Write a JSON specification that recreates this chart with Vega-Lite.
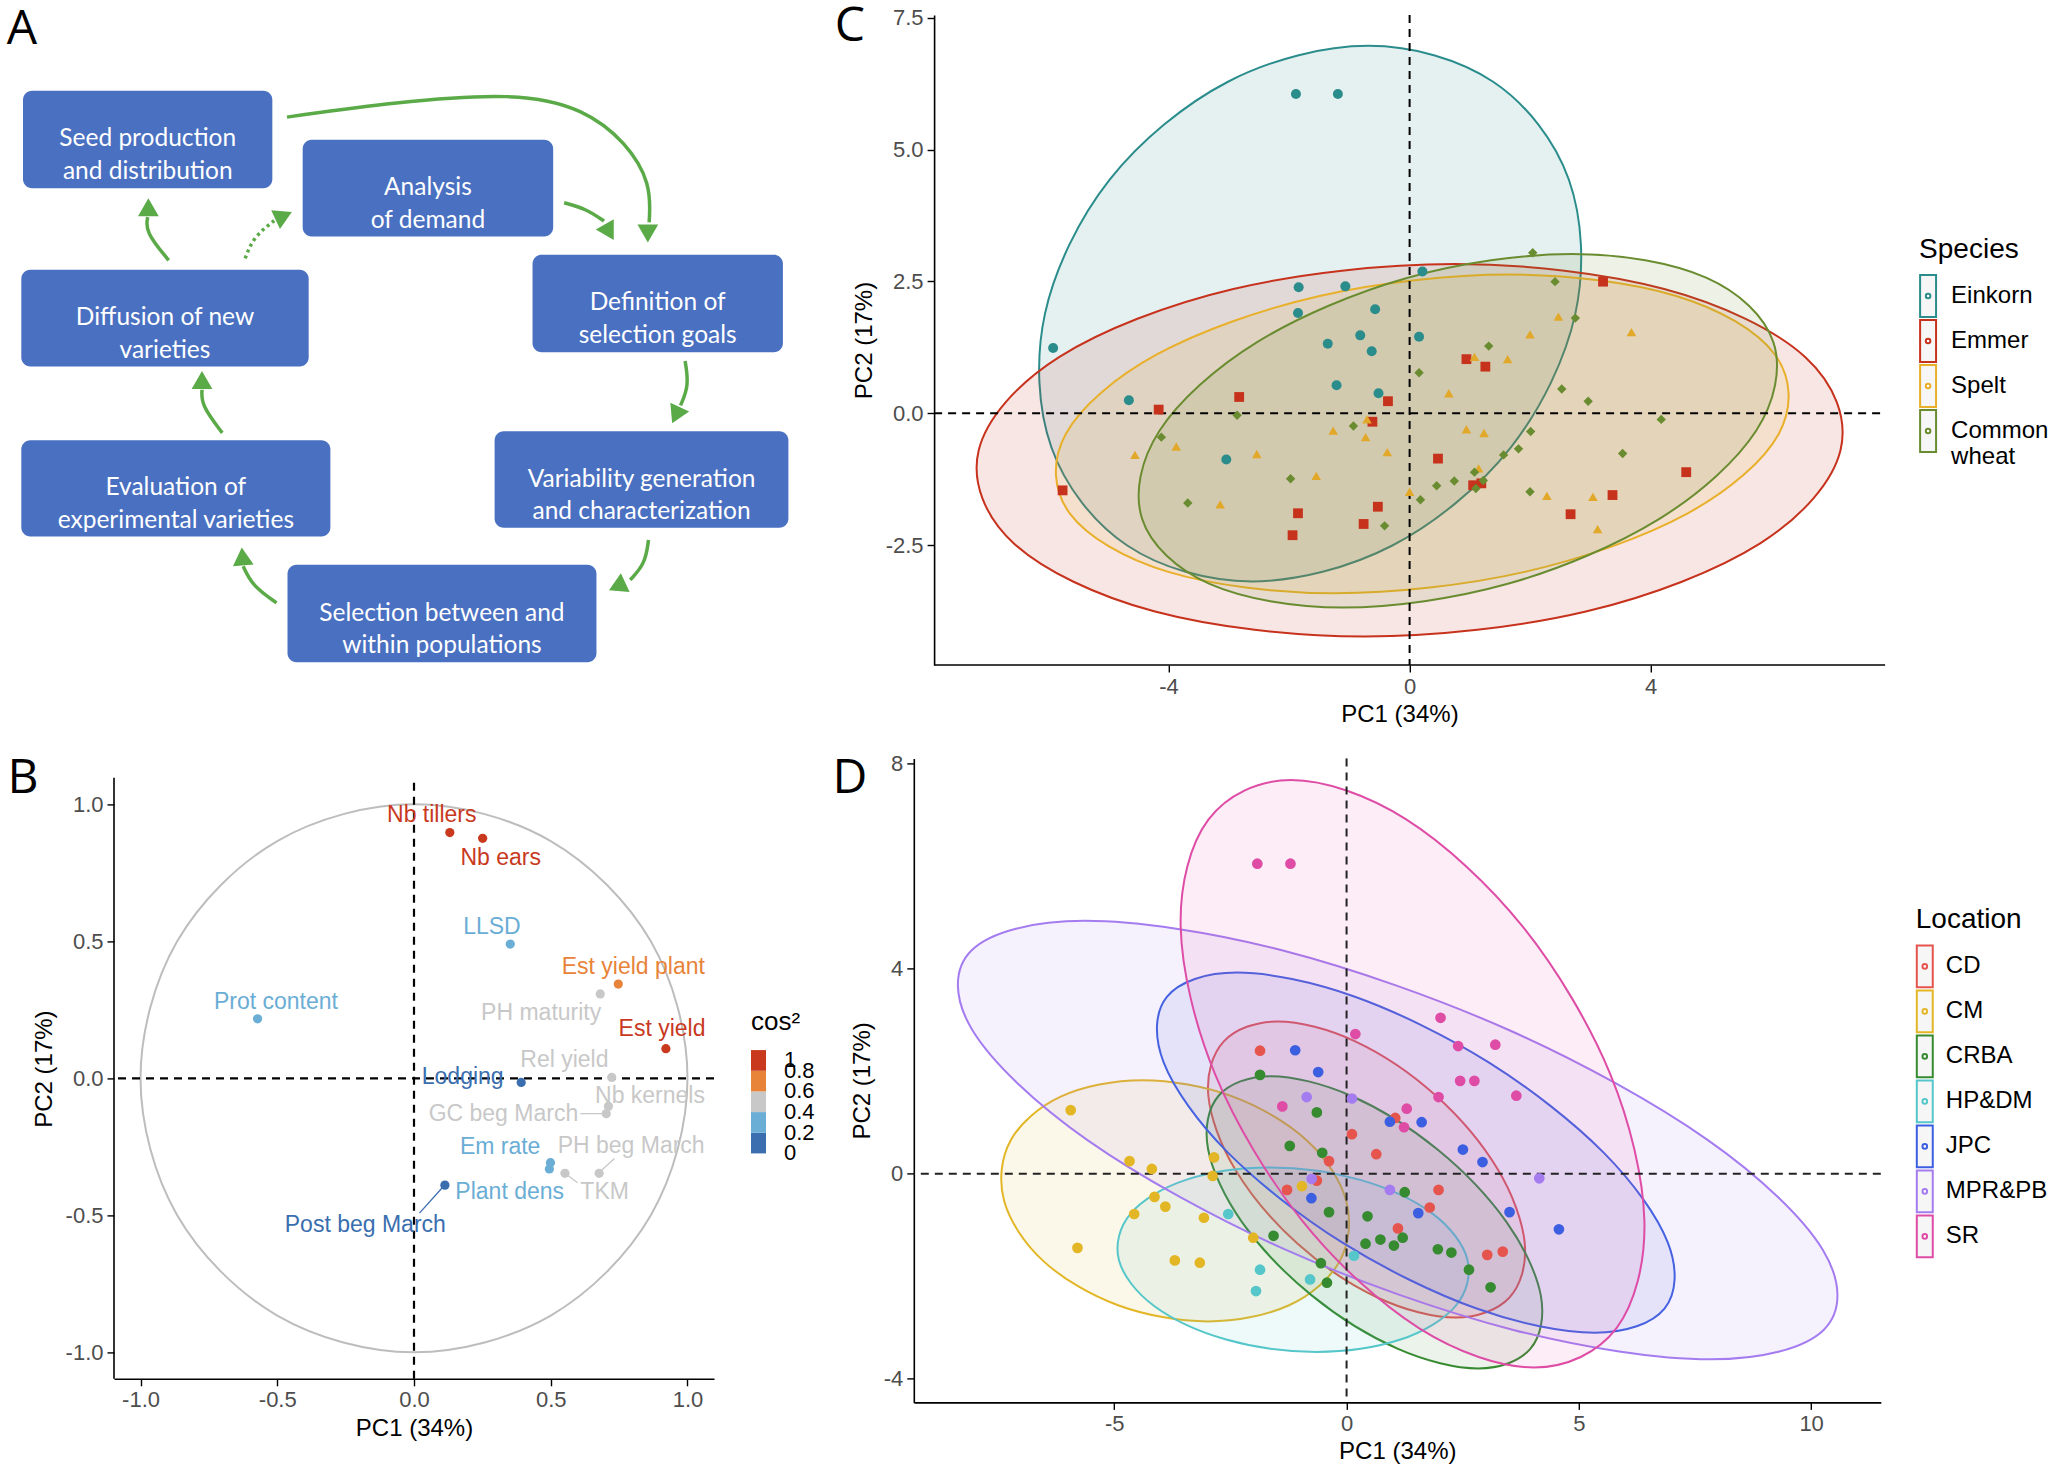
{
"$schema": "https://vega.github.io/schema/vega-lite/v6.json",
"background": "white",
"padding": {"left": 6, "top": 3, "right": 0, "bottom": 0},
"columns": 2,
"bounds": "flush",
"spacing": {"row": 93.4, "column": 199.8},
"resolve": {
 "scale": {"color": "independent", "fill": "independent", "stroke": "independent", "shape": "independent", "size": "independent"},
 "legend": {"color": "independent", "fill": "independent", "stroke": "independent", "shape": "independent", "size": "independent"}
},
"datasets": {
"boxes": [
{"x1":16.6,"x2":207.3,"y1":70.3,"y2":144.9,"tx":112,"ty":107.6,"label":"Seed production\nand distribution"},
{"x1":230.5,"x2":422.1,"y1":107.8,"y2":181.8,"tx":326.3,"ty":144.8,"label":"Analysis\nof demand"},
{"x1":406.3,"x2":597.8,"y1":195.7,"y2":270.3,"tx":502,"ty":233,"label":"Definition of\nselection goals"},
{"x1":377.3,"x2":602,"y1":330.7,"y2":404.6,"tx":489.7,"ty":367.7,"label":"Variability generation\nand characterization"},
{"x1":218.9,"x2":455.2,"y1":432.8,"y2":507.5,"tx":337,"ty":470.2,"label":"Selection between and\nwithin populations"},
{"x1":15.3,"x2":251.7,"y1":337.6,"y2":411.3,"tx":133.5,"ty":374.5,"label":"Evaluation of\nexperimental varieties"},
{"x1":15.3,"x2":235.1,"y1":207.3,"y2":281.3,"tx":125.2,"ty":244.3,"label":"Diffusion of new\nvarieties"}
],
"arrows": [
{"arrow":"a","i":0,"x":218.5,"y":90.5,"style":"solid"},{"arrow":"a","i":1,"x":300,"y":79,"style":"solid"},{"arrow":"a","i":2,"x":394,"y":71.5,"style":"solid"},{"arrow":"a","i":3,"x":446,"y":84,"style":"solid"},{"arrow":"a","i":4,"x":478,"y":110,"style":"solid"},{"arrow":"a","i":5,"x":497,"y":141,"style":"solid"},{"arrow":"a","i":6,"x":495.5,"y":171,"style":"solid"},
{"arrow":"b","i":0,"x":430.5,"y":156,"style":"solid"},{"arrow":"b","i":1,"x":447,"y":160.5,"style":"solid"},{"arrow":"b","i":2,"x":461,"y":170,"style":"solid"},
{"arrow":"c","i":0,"x":523,"y":277,"style":"solid"},{"arrow":"c","i":1,"x":526,"y":296,"style":"solid"},{"arrow":"c","i":2,"x":519.5,"y":311,"style":"solid"},
{"arrow":"d","i":0,"x":495,"y":414,"style":"solid"},{"arrow":"d","i":1,"x":492.5,"y":432,"style":"solid"},{"arrow":"d","i":2,"x":481,"y":444.5,"style":"solid"},
{"arrow":"e","i":0,"x":210.5,"y":462,"style":"solid"},{"arrow":"e","i":1,"x":192,"y":449,"style":"solid"},{"arrow":"e","i":2,"x":185,"y":434,"style":"solid"},
{"arrow":"f","i":0,"x":169,"y":332,"style":"solid"},{"arrow":"f","i":1,"x":153,"y":311,"style":"solid"},{"arrow":"f","i":2,"x":153.5,"y":299,"style":"solid"},
{"arrow":"g","i":0,"x":128,"y":200,"style":"solid"},{"arrow":"g","i":1,"x":110,"y":178,"style":"solid"},{"arrow":"g","i":2,"x":112,"y":167,"style":"solid"},
{"arrow":"h","i":0,"x":186.5,"y":198.5,"style":"dotted"},{"arrow":"h","i":1,"x":193,"y":182,"style":"dotted"},{"arrow":"h","i":2,"x":209,"y":169.5,"style":"dotted"}
],
"heads": [
{"x":494.5,"y":179.5,"angle":180},{"x":465,"y":178.5,"angle":150},{"x":516,"y":318.5,"angle":205},{"x":471,"y":449.5,"angle":245},
{"x":184.5,"y":426.5,"angle":355},{"x":153.5,"y":291.5,"angle":0},{"x":112.5,"y":159.5,"angle":0},{"x":216,"y":166,"angle":65}
],
"circleB": [
{"i":0,"PC1":1,"PC2":0},{"i":1,"PC1":0.866,"PC2":0.5},{"i":2,"PC1":0.5,"PC2":0.866},{"i":3,"PC1":0,"PC2":1},{"i":4,"PC1":-0.5,"PC2":0.866},{"i":5,"PC1":-0.866,"PC2":0.5},
{"i":6,"PC1":-1,"PC2":0},{"i":7,"PC1":-0.866,"PC2":-0.5},{"i":8,"PC1":-0.5,"PC2":-0.866},{"i":9,"PC1":0,"PC2":-1},{"i":10,"PC1":0.5,"PC2":-0.866},{"i":11,"PC1":0.866,"PC2":-0.5}
],
"varsB": [
{"variable":"Nb tillers","PC1":0.131,"PC2":0.897,"lx":0.065,"ly":0.961,"cos2":0.822},
{"variable":"Nb ears","PC1":0.251,"PC2":0.876,"lx":0.317,"ly":0.805,"cos2":0.83},
{"variable":"LLSD","PC1":0.352,"PC2":0.49,"lx":0.285,"ly":0.553,"cos2":0.364},
{"variable":"Est yield plant","PC1":0.747,"PC2":0.344,"lx":0.802,"ly":0.408,"cos2":0.676},
{"variable":"PH maturity","PC1":0.681,"PC2":0.308,"lx":0.465,"ly":0.239,"cos2":0.559},
{"variable":"Est yield","PC1":0.921,"PC2":0.108,"lx":0.907,"ly":0.181,"cos2":0.86},
{"variable":"Prot content","PC1":-0.572,"PC2":0.217,"lx":-0.505,"ly":0.28,"cos2":0.374},
{"variable":"Rel yield","PC1":0.723,"PC2":0.003,"lx":0.55,"ly":0.066,"cos2":0.523},
{"variable":"Lodging","PC1":0.392,"PC2":-0.015,"lx":0.178,"ly":0.005,"cos2":0.154},
{"variable":"Nb kernels","PC1":0.711,"PC2":-0.102,"lx":0.863,"ly":-0.064,"cos2":0.516},
{"variable":"GC beg March","PC1":0.703,"PC2":-0.129,"lx":0.327,"ly":-0.129,"cos2":0.511},
{"variable":"Em rate","PC1":0.499,"PC2":-0.308,"lx":0.315,"ly":-0.249,"cos2":0.344},
{"variable":"Plant dens","PC1":0.495,"PC2":-0.331,"lx":0.35,"ly":-0.415,"cos2":0.355},
{"variable":"PH beg March","PC1":0.677,"PC2":-0.347,"lx":0.794,"ly":-0.247,"cos2":0.578},
{"variable":"TKM","PC1":0.552,"PC2":-0.347,"lx":0.697,"ly":-0.415,"cos2":0.425},
{"variable":"Post beg March","PC1":0.113,"PC2":-0.39,"lx":-0.178,"ly":-0.534,"cos2":0.165}
],
"leadersB": [
{"PC1":0.608,"PC2":-0.129,"PC1end":0.693,"PC2end":-0.129,"cos2":0.511},
{"PC1":0.733,"PC2":-0.293,"PC1end":0.677,"PC2end":-0.344,"cos2":0.578},
{"PC1":0.598,"PC2":-0.381,"PC1end":0.558,"PC2end":-0.351,"cos2":0.425},
{"PC1":0.02,"PC2":-0.492,"PC1end":0.109,"PC2end":-0.393,"cos2":0.165}
],
"ellC": [
{"group":"Einkorn","i":0,"PC1":2.75,"PC2":1.89},{"group":"Einkorn","i":1,"PC1":2.643,"PC2":4.428},{"group":"Einkorn","i":2,"PC1":1.386,"PC2":6.285},{"group":"Einkorn","i":3,"PC1":-0.685,"PC2":6.965},{"group":"Einkorn","i":4,"PC1":-3.014,"PC2":6.285},{"group":"Einkorn","i":5,"PC1":-4.977,"PC2":4.428},{"group":"Einkorn","i":6,"PC1":-6.05,"PC2":1.89},{"group":"Einkorn","i":7,"PC1":-5.943,"PC2":-0.648},{"group":"Einkorn","i":8,"PC1":-4.686,"PC2":-2.505},{"group":"Einkorn","i":9,"PC1":-2.615,"PC2":-3.185},{"group":"Einkorn","i":10,"PC1":-0.286,"PC2":-2.505},{"group":"Einkorn","i":11,"PC1":1.677,"PC2":-0.648},
{"group":"Emmer","i":0,"PC1":7.15,"PC2":-0.7},{"group":"Emmer","i":1,"PC1":6.567,"PC2":1.065},{"group":"Emmer","i":2,"PC1":4.225,"PC2":2.357},{"group":"Emmer","i":3,"PC1":0.75,"PC2":2.83},{"group":"Emmer","i":4,"PC1":-2.925,"PC2":2.357},{"group":"Emmer","i":5,"PC1":-5.817,"PC2":1.065},{"group":"Emmer","i":6,"PC1":-7.15,"PC2":-0.7},{"group":"Emmer","i":7,"PC1":-6.567,"PC2":-2.465},{"group":"Emmer","i":8,"PC1":-4.225,"PC2":-3.757},{"group":"Emmer","i":9,"PC1":-0.75,"PC2":-4.23},{"group":"Emmer","i":10,"PC1":2.925,"PC2":-3.757},{"group":"Emmer","i":11,"PC1":5.817,"PC2":-2.465},
{"group":"Spelt","i":0,"PC1":6.125,"PC2":-0.39},{"group":"Spelt","i":1,"PC1":6.057,"PC2":1.12},{"group":"Spelt","i":2,"PC1":4.424,"PC2":2.225},{"group":"Spelt","i":3,"PC1":1.66,"PC2":2.63},{"group":"Spelt","i":4,"PC1":-1.492,"PC2":2.225},{"group":"Spelt","i":5,"PC1":-4.187,"PC2":1.12},{"group":"Spelt","i":6,"PC1":-5.705,"PC2":-0.39},{"group":"Spelt","i":7,"PC1":-5.637,"PC2":-1.9},{"group":"Spelt","i":8,"PC1":-4.004,"PC2":-3.005},{"group":"Spelt","i":9,"PC1":-1.24,"PC2":-3.41},{"group":"Spelt","i":10,"PC1":1.912,"PC2":-3.005},{"group":"Spelt","i":11,"PC1":4.607,"PC2":-1.9},
{"group":"Common wheat","i":0,"PC1":5.75,"PC2":-0.33},{"group":"Common wheat","i":1,"PC1":6.037,"PC2":1.345},{"group":"Common wheat","i":2,"PC1":4.92,"PC2":2.571},{"group":"Common wheat","i":3,"PC1":2.7,"PC2":3.02},{"group":"Common wheat","i":4,"PC1":-0.03,"PC2":2.571},{"group":"Common wheat","i":5,"PC1":-2.537,"PC2":1.345},{"group":"Common wheat","i":6,"PC1":-4.15,"PC2":-0.33},{"group":"Common wheat","i":7,"PC1":-4.437,"PC2":-2.005},{"group":"Common wheat","i":8,"PC1":-3.32,"PC2":-3.231},{"group":"Common wheat","i":9,"PC1":-1.1,"PC2":-3.68},{"group":"Common wheat","i":10,"PC1":1.63,"PC2":-3.231},{"group":"Common wheat","i":11,"PC1":4.137,"PC2":-2.005}
],
"ptsC": [
{"species":"Einkorn","PC1":-1.886,"PC2":6.053},{"species":"Einkorn","PC1":-1.19,"PC2":6.053},{"species":"Einkorn","PC1":-5.915,"PC2":1.239},{"species":"Einkorn","PC1":-1.841,"PC2":2.389},{"species":"Einkorn","PC1":-1.066,"PC2":2.407},{"species":"Einkorn","PC1":-1.852,"PC2":1.903},{"species":"Einkorn","PC1":-0.572,"PC2":1.973},{"species":"Einkorn","PC1":0.213,"PC2":2.69},{"species":"Einkorn","PC1":-0.819,"PC2":1.478},{"species":"Einkorn","PC1":-1.358,"PC2":1.319},{"species":"Einkorn","PC1":-0.629,"PC2":1.177},{"species":"Einkorn","PC1":0.157,"PC2":1.451},{"species":"Einkorn","PC1":-1.212,"PC2":0.531},{"species":"Einkorn","PC1":-0.516,"PC2":0.381},{"species":"Einkorn","PC1":-4.658,"PC2":0.248},{"species":"Einkorn","PC1":-3.042,"PC2":-0.876},
{"species":"Emmer","PC1":3.21,"PC2":2.496},{"species":"Emmer","PC1":0.943,"PC2":1.027},{"species":"Emmer","PC1":1.257,"PC2":0.885},{"species":"Emmer","PC1":-2.828,"PC2":0.31},{"species":"Emmer","PC1":-0.359,"PC2":0.23},{"species":"Emmer","PC1":-4.164,"PC2":0.071},{"species":"Emmer","PC1":-0.617,"PC2":-0.159},{"species":"Emmer","PC1":0.471,"PC2":-0.858},{"species":"Emmer","PC1":-5.758,"PC2":-1.46},{"species":"Emmer","PC1":1.055,"PC2":-1.363},{"species":"Emmer","PC1":1.19,"PC2":-1.327},{"species":"Emmer","PC1":4.59,"PC2":-1.115},{"species":"Emmer","PC1":3.367,"PC2":-1.549},{"species":"Emmer","PC1":2.671,"PC2":-1.912},{"species":"Emmer","PC1":-0.527,"PC2":-1.77},{"species":"Emmer","PC1":-1.852,"PC2":-1.894},{"species":"Emmer","PC1":-0.763,"PC2":-2.097},{"species":"Emmer","PC1":-1.942,"PC2":-2.31},
{"species":"Spelt","PC1":2.469,"PC2":1.832},{"species":"Spelt","PC1":3.681,"PC2":1.54},{"species":"Spelt","PC1":1.998,"PC2":1.496},{"species":"Spelt","PC1":1.077,"PC2":1.071},{"species":"Spelt","PC1":1.627,"PC2":1.027},{"species":"Spelt","PC1":0.651,"PC2":0.381},{"species":"Spelt","PC1":-0.707,"PC2":-0.115},{"species":"Spelt","PC1":-1.268,"PC2":-0.327},{"species":"Spelt","PC1":-0.73,"PC2":-0.451},{"species":"Spelt","PC1":0.943,"PC2":-0.301},{"species":"Spelt","PC1":1.235,"PC2":-0.372},{"species":"Spelt","PC1":-0.37,"PC2":-0.735},{"species":"Spelt","PC1":-2.536,"PC2":-0.77},{"species":"Spelt","PC1":-3.872,"PC2":-0.628},{"species":"Spelt","PC1":-4.557,"PC2":-0.788},{"species":"Spelt","PC1":-1.549,"PC2":-1.186},{"species":"Spelt","PC1":1.145,"PC2":-1.044},{"species":"Spelt","PC1":0.0,"PC2":-1.487},{"species":"Spelt","PC1":-3.143,"PC2":-1.726},{"species":"Spelt","PC1":2.278,"PC2":-1.566},{"species":"Spelt","PC1":3.042,"PC2":-1.584},{"species":"Spelt","PC1":3.12,"PC2":-2.195},
{"species":"Common wheat","PC1":2.043,"PC2":3.044},{"species":"Common wheat","PC1":2.413,"PC2":2.496},{"species":"Common wheat","PC1":2.75,"PC2":1.805},{"species":"Common wheat","PC1":1.313,"PC2":1.274},{"species":"Common wheat","PC1":0.157,"PC2":0.77},{"species":"Common wheat","PC1":2.525,"PC2":0.46},{"species":"Common wheat","PC1":2.963,"PC2":0.23},{"species":"Common wheat","PC1":4.175,"PC2":-0.115},{"species":"Common wheat","PC1":-2.862,"PC2":-0.035},{"species":"Common wheat","PC1":-0.932,"PC2":-0.239},{"species":"Common wheat","PC1":-4.119,"PC2":-0.451},{"species":"Common wheat","PC1":2.009,"PC2":-0.345},{"species":"Common wheat","PC1":1.807,"PC2":-0.673},{"species":"Common wheat","PC1":1.56,"PC2":-0.788},{"species":"Common wheat","PC1":3.535,"PC2":-0.761},{"species":"Common wheat","PC1":1.077,"PC2":-1.115},{"species":"Common wheat","PC1":1.223,"PC2":-1.274},{"species":"Common wheat","PC1":-1.975,"PC2":-1.239},{"species":"Common wheat","PC1":0.741,"PC2":-1.283},{"species":"Common wheat","PC1":0.449,"PC2":-1.372},{"species":"Common wheat","PC1":1.1,"PC2":-1.425},{"species":"Common wheat","PC1":1.998,"PC2":-1.487},{"species":"Common wheat","PC1":0.18,"PC2":-1.637},{"species":"Common wheat","PC1":-3.681,"PC2":-1.699},{"species":"Common wheat","PC1":-0.415,"PC2":-2.133}
],
"ellD": [
{"group":"CD","i":0,"PC1":3.257,"PC2":0.08},{"group":"CD","i":1,"PC1":1.92,"PC2":1.525},{"group":"CD","i":2,"PC1":0.186,"PC2":2.583},{"group":"CD","i":3,"PC1":-1.485,"PC2":2.97},{"group":"CD","i":4,"PC1":-2.642,"PC2":2.583},{"group":"CD","i":5,"PC1":-2.976,"PC2":1.525},{"group":"CD","i":6,"PC1":-2.397,"PC2":0.08},{"group":"CD","i":7,"PC1":-1.06,"PC2":-1.365},{"group":"CD","i":8,"PC1":0.674,"PC2":-2.423},{"group":"CD","i":9,"PC1":2.345,"PC2":-2.81},{"group":"CD","i":10,"PC1":3.502,"PC2":-2.423},{"group":"CD","i":11,"PC1":3.836,"PC2":-1.365},
{"group":"CM","i":0,"PC1":-0.008,"PC2":-0.53},{"group":"CM","i":1,"PC1":-0.854,"PC2":0.648},{"group":"CM","i":2,"PC1":-2.46,"PC2":1.509},{"group":"CM","i":3,"PC1":-4.396,"PC2":1.825},{"group":"CM","i":4,"PC1":-6.142,"PC2":1.509},{"group":"CM","i":5,"PC1":-7.232,"PC2":0.648},{"group":"CM","i":6,"PC1":-7.372,"PC2":-0.53},{"group":"CM","i":7,"PC1":-6.526,"PC2":-1.708},{"group":"CM","i":8,"PC1":-4.92,"PC2":-2.569},{"group":"CM","i":9,"PC1":-2.984,"PC2":-2.885},{"group":"CM","i":10,"PC1":-1.238,"PC2":-2.569},{"group":"CM","i":11,"PC1":-0.148,"PC2":-1.708},
{"group":"CRBA","i":0,"PC1":3.448,"PC2":-0.95},{"group":"CRBA","i":1,"PC1":1.951,"PC2":0.477},{"group":"CRBA","i":2,"PC1":0.093,"PC2":1.521},{"group":"CRBA","i":3,"PC1":-1.63,"PC2":1.903},{"group":"CRBA","i":4,"PC1":-2.755,"PC2":1.521},{"group":"CRBA","i":5,"PC1":-2.981,"PC2":0.477},{"group":"CRBA","i":6,"PC1":-2.248,"PC2":-0.95},{"group":"CRBA","i":7,"PC1":-0.751,"PC2":-2.377},{"group":"CRBA","i":8,"PC1":1.107,"PC2":-3.421},{"group":"CRBA","i":9,"PC1":2.83,"PC2":-3.803},{"group":"CRBA","i":10,"PC1":3.955,"PC2":-3.421},{"group":"CRBA","i":11,"PC1":4.181,"PC2":-2.377},
{"group":"HP&DM","i":0,"PC1":2.602,"PC2":-1.68},{"group":"HP&DM","i":1,"PC1":1.849,"PC2":-0.78},{"group":"HP&DM","i":2,"PC1":0.293,"PC2":-0.121},{"group":"HP&DM","i":3,"PC1":-1.65,"PC2":0.12},{"group":"HP&DM","i":4,"PC1":-3.459,"PC2":-0.121},{"group":"HP&DM","i":5,"PC1":-4.649,"PC2":-0.78},{"group":"HP&DM","i":6,"PC1":-4.902,"PC2":-1.68},{"group":"HP&DM","i":7,"PC1":-4.149,"PC2":-2.58},{"group":"HP&DM","i":8,"PC1":-2.593,"PC2":-3.239},{"group":"HP&DM","i":9,"PC1":-0.65,"PC2":-3.48},{"group":"HP&DM","i":10,"PC1":1.159,"PC2":-3.239},{"group":"HP&DM","i":11,"PC1":2.349,"PC2":-2.58},
{"group":"JPC","i":0,"PC1":5.534,"PC2":0.41},{"group":"JPC","i":1,"PC1":3.068,"PC2":2.168},{"group":"JPC","i":2,"PC1":0.18,"PC2":3.454},{"group":"JPC","i":3,"PC1":-2.358,"PC2":3.925},{"group":"JPC","i":4,"PC1":-3.864,"PC2":3.454},{"group":"JPC","i":5,"PC1":-3.936,"PC2":2.168},{"group":"JPC","i":6,"PC1":-2.554,"PC2":0.41},{"group":"JPC","i":7,"PC1":-0.088,"PC2":-1.348},{"group":"JPC","i":8,"PC1":2.8,"PC2":-2.634},{"group":"JPC","i":9,"PC1":5.338,"PC2":-3.105},{"group":"JPC","i":10,"PC1":6.844,"PC2":-2.634},{"group":"JPC","i":11,"PC1":6.916,"PC2":-1.348},
{"group":"MPR&PB","i":0,"PC1":7.778,"PC2":0.655},{"group":"MPR&PB","i":1,"PC1":3.516,"PC2":2.795},{"group":"MPR&PB","i":2,"PC1":-1.392,"PC2":4.361},{"group":"MPR&PB","i":3,"PC1":-5.633,"PC2":4.935},{"group":"MPR&PB","i":4,"PC1":-8.07,"PC2":4.361},{"group":"MPR&PB","i":5,"PC1":-8.05,"PC2":2.795},{"group":"MPR&PB","i":6,"PC1":-5.578,"PC2":0.655},{"group":"MPR&PB","i":7,"PC1":-1.316,"PC2":-1.485},{"group":"MPR&PB","i":8,"PC1":3.592,"PC2":-3.051},{"group":"MPR&PB","i":9,"PC1":7.833,"PC2":-3.625},{"group":"MPR&PB","i":10,"PC1":10.27,"PC2":-3.051},{"group":"MPR&PB","i":11,"PC1":10.25,"PC2":-1.485},
{"group":"SR","i":0,"PC1":5.674,"PC2":1.95},{"group":"SR","i":1,"PC1":3.797,"PC2":4.817},{"group":"SR","i":2,"PC1":1.283,"PC2":6.916},{"group":"SR","i":3,"PC1":-1.194,"PC2":7.684},{"group":"SR","i":4,"PC1":-2.971,"PC2":6.916},{"group":"SR","i":5,"PC1":-3.571,"PC2":4.817},{"group":"SR","i":6,"PC1":-2.834,"PC2":1.95},{"group":"SR","i":7,"PC1":-0.957,"PC2":-0.917},{"group":"SR","i":8,"PC1":1.557,"PC2":-3.016},{"group":"SR","i":9,"PC1":4.034,"PC2":-3.784},{"group":"SR","i":10,"PC1":5.811,"PC2":-3.016},{"group":"SR","i":11,"PC1":6.411,"PC2":-0.917}
],
"ptsD": [
{"location":"CD","PC1":-1.863,"PC2":2.4},{"location":"CD","PC1":1.048,"PC2":1.087},{"location":"CD","PC1":0.116,"PC2":0.77},{"location":"CD","PC1":0.64,"PC2":0.38},{"location":"CD","PC1":-0.378,"PC2":0.245},{"location":"CD","PC1":-0.64,"PC2":-0.136},{"location":"CD","PC1":-1.281,"PC2":-0.317},{"location":"CD","PC1":1.98,"PC2":-0.317},{"location":"CD","PC1":1.79,"PC2":-0.661},{"location":"CD","PC1":1.106,"PC2":-1.069},{"location":"CD","PC1":3.028,"PC2":-1.585},{"location":"CD","PC1":3.362,"PC2":-1.522},
{"location":"CM","PC1":-5.939,"PC2":1.241},{"location":"CM","PC1":-4.672,"PC2":0.245},{"location":"CM","PC1":-4.192,"PC2":0.091},{"location":"CM","PC1":-2.853,"PC2":0.317},{"location":"CM","PC1":-2.882,"PC2":-0.045},{"location":"CM","PC1":-4.134,"PC2":-0.453},{"location":"CM","PC1":-4.571,"PC2":-0.788},{"location":"CM","PC1":-3.901,"PC2":-0.643},{"location":"CM","PC1":-3.071,"PC2":-0.861},{"location":"CM","PC1":-5.793,"PC2":-1.449},{"location":"CM","PC1":-3.697,"PC2":-1.694},{"location":"CM","PC1":-3.159,"PC2":-1.739},{"location":"CM","PC1":-2.009,"PC2":-1.25},{"location":"CM","PC1":-0.961,"PC2":-0.245},
{"location":"CRBA","PC1":-1.863,"PC2":1.929},{"location":"CRBA","PC1":-0.64,"PC2":1.196},{"location":"CRBA","PC1":-1.223,"PC2":0.543},{"location":"CRBA","PC1":-0.524,"PC2":0.408},{"location":"CRBA","PC1":1.252,"PC2":-0.362},{"location":"CRBA","PC1":-0.378,"PC2":-0.752},{"location":"CRBA","PC1":0.451,"PC2":-0.833},{"location":"CRBA","PC1":-1.572,"PC2":-1.214},{"location":"CRBA","PC1":0.728,"PC2":-1.286},{"location":"CRBA","PC1":0.408,"PC2":-1.368},{"location":"CRBA","PC1":1.019,"PC2":-1.404},{"location":"CRBA","PC1":1.208,"PC2":-1.25},{"location":"CRBA","PC1":1.965,"PC2":-1.476},{"location":"CRBA","PC1":2.256,"PC2":-1.54},{"location":"CRBA","PC1":2.635,"PC2":-1.875},{"location":"CRBA","PC1":-0.553,"PC2":-1.748},{"location":"CRBA","PC1":-0.422,"PC2":-2.129},{"location":"CRBA","PC1":3.1,"PC2":-2.219},
{"location":"HP&DM","PC1":-2.547,"PC2":-0.788},{"location":"HP&DM","PC1":-1.863,"PC2":-1.875},{"location":"HP&DM","PC1":-1.95,"PC2":-2.292},{"location":"HP&DM","PC1":-0.786,"PC2":-2.065},{"location":"HP&DM","PC1":0.16,"PC2":-1.603},
{"location":"JPC","PC1":-1.106,"PC2":2.409},{"location":"JPC","PC1":-0.611,"PC2":1.984},{"location":"JPC","PC1":0.932,"PC2":1.014},{"location":"JPC","PC1":1.616,"PC2":1.005},{"location":"JPC","PC1":2.504,"PC2":0.471},{"location":"JPC","PC1":2.926,"PC2":0.226},{"location":"JPC","PC1":-0.757,"PC2":-0.48},{"location":"JPC","PC1":1.543,"PC2":-0.77},{"location":"JPC","PC1":3.508,"PC2":-0.752},{"location":"JPC","PC1":4.571,"PC2":-1.087},
{"location":"MPR&PB","PC1":-0.859,"PC2":1.495},{"location":"MPR&PB","PC1":0.116,"PC2":1.467},{"location":"MPR&PB","PC1":4.148,"PC2":-0.091},{"location":"MPR&PB","PC1":0.932,"PC2":-0.317},{"location":"MPR&PB","PC1":-0.75,"PC2":-0.1},
{"location":"SR","PC1":-1.921,"PC2":6.051},{"location":"SR","PC1":-1.208,"PC2":6.051},{"location":"SR","PC1":2.023,"PC2":3.043},{"location":"SR","PC1":0.189,"PC2":2.726},{"location":"SR","PC1":2.402,"PC2":2.491},{"location":"SR","PC1":3.202,"PC2":2.518},{"location":"SR","PC1":2.445,"PC2":1.812},{"location":"SR","PC1":2.751,"PC2":1.812},{"location":"SR","PC1":3.654,"PC2":1.522},{"location":"SR","PC1":1.98,"PC2":1.495},{"location":"SR","PC1":-1.383,"PC2":1.313},{"location":"SR","PC1":1.295,"PC2":1.268},{"location":"SR","PC1":1.237,"PC2":0.906}
]
},
"concat": [
{
"width": 600, "height": 649,
"layer": [
{"data":{"name":"boxes"},"mark":{"type":"rect","cornerRadius":9,"color":"#4A70C1"},
 "encoding":{"x":{"field":"x1","type":"quantitative","scale":{"domain":[86.2,545.1],"nice":false,"zero":false},"axis":null},"x2":{"field":"x2"},
 "y":{"field":"y1","type":"quantitative","scale":{"domain":[12.4,508.8],"nice":false,"zero":false,"reverse":true},"axis":null},"y2":{"field":"y2"}}},
{"data":{"name":"boxes"},"mark":{"type":"text","color":"#FFFFFF","font":"Lato","fontSize":24.5,"lineBreak":"\n","lineHeight":32.5,"align":"center","baseline":"middle"},
 "encoding":{"x":{"field":"tx","type":"quantitative","scale":{"domain":[86.2,545.1],"nice":false,"zero":false},"axis":null},
 "y":{"field":"ty","type":"quantitative","scale":{"domain":[12.4,508.8],"nice":false,"zero":false,"reverse":true},"axis":null},"text":{"field":"label"}}},
{"data":{"name":"arrows"},"transform":[{"filter":"datum.style == 'solid'"}],"mark":{"type":"line","interpolate":"basis","color":"#5AAA48","strokeWidth":3.5},
 "encoding":{"x":{"field":"x","type":"quantitative","scale":{"domain":[86.2,545.1],"nice":false,"zero":false},"axis":null},
 "y":{"field":"y","type":"quantitative","scale":{"domain":[12.4,508.8],"nice":false,"zero":false,"reverse":true},"axis":null},"detail":{"field":"arrow"},"order":{"field":"i","type":"quantitative"}}},
{"data":{"name":"arrows"},"transform":[{"filter":"datum.style == 'dotted'"}],"mark":{"type":"line","interpolate":"basis","color":"#5AAA48","strokeWidth":3.5,"strokeDash":[3,3.5]},
 "encoding":{"x":{"field":"x","type":"quantitative","scale":{"domain":[86.2,545.1],"nice":false,"zero":false},"axis":null},
 "y":{"field":"y","type":"quantitative","scale":{"domain":[12.4,508.8],"nice":false,"zero":false,"reverse":true},"axis":null},"detail":{"field":"arrow"},"order":{"field":"i","type":"quantitative"}}},
{"data":{"name":"heads"},"mark":{"type":"point","shape":"triangle-up","filled":true,"color":"#5AAA48","size":430,"opacity":1},
 "encoding":{"x":{"field":"x","type":"quantitative","scale":{"domain":[86.2,545.1],"nice":false,"zero":false},"axis":null},
 "y":{"field":"y","type":"quantitative","scale":{"domain":[12.4,508.8],"nice":false,"zero":false,"reverse":true},"axis":null},"angle":{"field":"angle","type":"quantitative","scale":null}}},
{"data":{"values":[{"t":"A","x":15.7,"y":34.2}]},"mark":{"type":"text","font":"Open Sans","fontSize":48,"align":"center","baseline":"alphabetic","color":"#000000"},
 "encoding":{"x":{"field":"x","type":"quantitative","scale":{"domain":[86.2,545.1],"nice":false,"zero":false},"axis":null},
 "y":{"field":"y","type":"quantitative","scale":{"domain":[12.4,508.8],"nice":false,"zero":false,"reverse":true},"axis":null},"text":{"field":"t"}}}
]
},
{
"width": 971.3, "height": 650,
"layer": [
{"data":{"name":"ellC"},"mark":{"type":"line","interpolate":"cardinal-closed","strokeWidth":2,"fillOpacity":0.12},
 "encoding":{"x":{"field":"PC1","type":"quantitative","scale":{"domain":[-8.227,7.89],"nice":false,"zero":false},"axis":{"title":"PC1 (34%)","domain":false,"values":[-4,0,4],"labelExpr":"datum.value < 0 ? '-' + format(-datum.value, 'd') : format(datum.value, 'd')"}},
 "y":{"field":"PC2","type":"quantitative","scale":{"domain":[-4.77,7.55],"nice":false,"zero":false},"axis":{"title":"PC2 (17%)","offset":-20.3,"values":[-2.5,0,2.5,5,7.5],"labelExpr":"datum.value < 0 ? '-' + format(-datum.value, '.1f') : format(datum.value, '.1f')"}},
 "order":{"field":"i","type":"quantitative"},
 "stroke":{"field":"group","type":"nominal","scale":{"domain":["Einkorn","Emmer","Spelt","Common wheat"],"range":["#2B8C8C","#C7321D","#E8B02A","#6A8C30"]},
   "legend":{"title":"Species","orient":"none","legendX":1005.3,"legendY":221,"symbolType":"M-1,-1.1H-0.16V1.1H-1Z M-0.7,0A0.12,0.12 0 1,0 -0.46,0A0.12,0.12 0 1,0 -0.7,0Z","symbolSize":1444,"symbolStrokeWidth":2,"symbolFillColor":"#F6F6F6","labelFontSize":24,"titleFontSize":28,"labelOffset":-8,"rowPadding":-7.5,"titlePadding":12,"labelExpr":"datum.label == 'Common wheat' ? ['Common', 'wheat'] : datum.label"}},
 "fill":{"field":"group","type":"nominal","scale":{"domain":["Einkorn","Emmer","Spelt","Common wheat","none"],"range":["#2B8C8C","#C7321D","#E8B02A","#6A8C30","#FFFFFF"]},"legend":null}}},
{"data":{"values":[{}]},"mark":{"type":"rule","color":"#000000","strokeWidth":1.6},"encoding":{"y":{"datum":-4.77,"type":"quantitative","scale":{"domain":[-4.77,7.55],"nice":false,"zero":false}},"x":{"datum":-7.89,"type":"quantitative","scale":{"domain":[-8.227,7.89],"nice":false,"zero":false}},"x2":{"datum":7.89}}},
{"data":{"values":[{}]},"mark":{"type":"rule","color":"#000000","strokeWidth":2,"strokeDash":[8,6]},"encoding":{"y":{"datum":0,"type":"quantitative","scale":{"domain":[-4.77,7.55],"nice":false,"zero":false}},"x":{"datum":-7.89,"type":"quantitative","scale":{"domain":[-8.227,7.89],"nice":false,"zero":false}},"x2":{"datum":7.89}}},
{"data":{"values":[{}]},"mark":{"type":"rule","color":"#000000","strokeWidth":2,"strokeDash":[8,6]},"encoding":{"x":{"datum":0,"type":"quantitative","scale":{"domain":[-8.227,7.89],"nice":false,"zero":false}}}},
{"data":{"name":"ptsC"},"mark":{"type":"point","filled":true,"opacity":1},
 "encoding":{"x":{"field":"PC1","type":"quantitative","scale":{"domain":[-8.227,7.89],"nice":false,"zero":false}},
 "y":{"field":"PC2","type":"quantitative","scale":{"domain":[-4.77,7.55],"nice":false,"zero":false}},
 "color":{"field":"species","type":"nominal","scale":{"domain":["Einkorn","Emmer","Spelt","Common wheat","x"],"range":["#2B8C8C","#C7321D","#E2A82A","#6A8C30","#FFFFFF"]},"legend":null},
 "shape":{"field":"species","type":"nominal","scale":{"domain":["Einkorn","Emmer","Spelt","Common wheat","x"],"range":["circle","square","triangle-up","diamond","circle"]},"legend":null},
 "size":{"field":"species","type":"nominal","scale":{"domain":["Einkorn","Emmer","Spelt","Common wheat","x"],"range":[100,85,150,72,10]},"legend":null}}},
{"data":{"values":[{"t":"C","x":-9.289,"y":7.05}]},"mark":{"type":"text","font":"Open Sans","fontSize":48,"align":"center","baseline":"alphabetic","color":"#000000"},
 "encoding":{"x":{"field":"x","type":"quantitative","scale":{"domain":[-8.227,7.89],"nice":false,"zero":false}},"y":{"field":"y","type":"quantitative","scale":{"domain":[-4.77,7.55],"nice":false,"zero":false}},"text":{"field":"t"}}}
]
},
{
"width": 600, "height": 620.4,
"layer": [
{"data":{"name":"circleB"},"mark":{"type":"line","interpolate":"cardinal-closed","color":"#BDBDBD","strokeWidth":2},
 "encoding":{"x":{"field":"PC1","type":"quantitative","scale":{"domain":[-1.097,1.097],"nice":false,"zero":false},"axis":{"title":"PC1 (34%)","values":[-1,-0.5,0,0.5,1],"labelExpr":"datum.value < 0 ? '-' + format(-datum.value, '.1f') : format(datum.value, '.1f')"}},
 "y":{"field":"PC2","type":"quantitative","scale":{"domain":[-1.097,1.1678],"nice":false,"zero":false},"axis":{"title":"PC2 (17%)","domain":false,"values":[-1,-0.5,0,0.5,1],"labelExpr":"datum.value < 0 ? '-' + format(-datum.value, '.1f') : format(datum.value, '.1f')"}},
 "order":{"field":"i","type":"quantitative"}}},
{"data":{"values":[{}]},"mark":{"type":"rule","color":"#000000","strokeWidth":1.6},"encoding":{"x":{"datum":-1.097,"type":"quantitative","scale":{"domain":[-1.097,1.097],"nice":false,"zero":false}},"y":{"datum":-1.097,"type":"quantitative","scale":{"domain":[-1.097,1.1678],"nice":false,"zero":false}},"y2":{"datum":1.097}}},
{"data":{"values":[{}]},"mark":{"type":"rule","color":"#000000","strokeWidth":2.2,"strokeDash":[8,6]},"encoding":{"y":{"datum":0,"type":"quantitative","scale":{"domain":[-1.097,1.1678],"nice":false,"zero":false}}}},
{"data":{"values":[{}]},"mark":{"type":"rule","color":"#000000","strokeWidth":2.2,"strokeDash":[8,6]},"encoding":{"x":{"datum":0,"type":"quantitative","scale":{"domain":[-1.097,1.097],"nice":false,"zero":false}},"y":{"datum":-1.097,"type":"quantitative","scale":{"domain":[-1.097,1.1678],"nice":false,"zero":false}},"y2":{"datum":1.097}}},
{"data":{"name":"leadersB"},"mark":{"type":"rule","strokeWidth":1.3},
 "encoding":{"x":{"field":"PC1","type":"quantitative","scale":{"domain":[-1.097,1.097],"nice":false,"zero":false}},"y":{"field":"PC2","type":"quantitative","scale":{"domain":[-1.097,1.1678],"nice":false,"zero":false}},
 "x2":{"field":"PC1end"},"y2":{"field":"PC2end"},
 "color":{"field":"cos2","type":"quantitative","scale":{"type":"quantize","domain":[-0.2002,0.9998],"nice":false,"zero":false,"range":["#FFFFFF","#3A6EAF","#6AADD5","#C8C8C8","#E8833A","#C8391E"]}}}},
{"data":{"name":"varsB"},"mark":{"type":"circle","size":85,"opacity":1},
 "encoding":{"x":{"field":"PC1","type":"quantitative","scale":{"domain":[-1.097,1.097],"nice":false,"zero":false}},"y":{"field":"PC2","type":"quantitative","scale":{"domain":[-1.097,1.1678],"nice":false,"zero":false}},
 "color":{"field":"cos2","type":"quantitative","scale":{"type":"quantize","domain":[-0.2002,0.9998],"nice":false,"zero":false,"range":["#FFFFFF","#3A6EAF","#6AADD5","#C8C8C8","#E8833A","#C8391E"]},
   "legend":{"title":"cos²","type":"gradient","orient":"none","legendX":637,"legendY":251,"direction":"vertical","gradientLength":124,"gradientThickness":15,"gradientStrokeWidth":0,"labelFontSize":22,"titleFontSize":26,"labelOverlap":false,"titlePadding":14.7,"labelOffset":18,"values":[-0.2,0,0.2,0.4,0.6,0.8,1,1.0001],"format":".1~f","labelExpr":"datum.value > 1 || datum.value < -0.1 ? '' : datum.label"}}}},
{"data":{"name":"varsB"},"mark":{"type":"text","fontSize":23,"align":"center","baseline":"middle"},
 "encoding":{"x":{"field":"lx","type":"quantitative","scale":{"domain":[-1.097,1.097],"nice":false,"zero":false}},"y":{"field":"ly","type":"quantitative","scale":{"domain":[-1.097,1.1678],"nice":false,"zero":false}},
 "text":{"field":"variable"},
 "color":{"field":"cos2","type":"quantitative","scale":{"type":"quantize","domain":[-0.2002,0.9998],"nice":false,"zero":false,"range":["#FFFFFF","#3A6EAF","#6AADD5","#C8C8C8","#E8833A","#C8391E"]}}}},
{"data":{"values":[{"t":"B","x":-1.43,"y":1.04}]},"mark":{"type":"text","font":"Open Sans","fontSize":48,"align":"center","baseline":"alphabetic","color":"#000000"},
 "encoding":{"x":{"field":"x","type":"quantitative","scale":{"domain":[-1.097,1.097],"nice":false,"zero":false}},"y":{"field":"y","type":"quantitative","scale":{"domain":[-1.097,1.1678],"nice":false,"zero":false}},"text":{"field":"t"}}}
]
},
{
"width": 967, "height": 644,
"layer": [
{"data":{"name":"ellD"},"mark":{"type":"line","interpolate":"cardinal-closed","strokeWidth":2,"fillOpacity":0.1},
 "encoding":{"x":{"field":"PC1","type":"quantitative","scale":{"domain":[-9.316,11.5],"nice":false,"zero":false},"axis":{"title":"PC1 (34%)","values":[-5,0,5,10],"labelExpr":"datum.value < 0 ? '-' + format(-datum.value, 'd') : format(datum.value, 'd')"}},
 "y":{"field":"PC2","type":"quantitative","scale":{"domain":[-4.466,8.107],"nice":false,"zero":false},"axis":{"title":"PC2 (17%)","values":[-4,0,4,8],"labelExpr":"datum.value < 0 ? '-' + format(-datum.value, 'd') : format(datum.value, 'd')"}},
 "order":{"field":"i","type":"quantitative"},
 "stroke":{"field":"group","type":"nominal","scale":{"domain":["CD","CM","CRBA","HP&DM","JPC","MPR&PB","SR"],"range":["#E5554D","#E3B626","#368A2F","#55C6C9","#3B5FE0","#A47CF0","#DE4CA6"]},
   "legend":{"title":"Location","orient":"none","legendX":1002,"legendY":148,"symbolType":"M-1,-1.1H-0.16V1.1H-1Z M-0.7,0A0.12,0.12 0 1,0 -0.46,0A0.12,0.12 0 1,0 -0.7,0Z","symbolSize":1444,"symbolStrokeWidth":2,"symbolFillColor":"#F6F6F6","labelFontSize":24,"titleFontSize":28,"labelOffset":-10,"rowPadding":-7.5,"titlePadding":12}},
 "fill":{"field":"group","type":"nominal","scale":{"domain":["CD","CM","CRBA","HP&DM","JPC","MPR&PB","SR","none"],"range":["#E5554D","#E3B626","#368A2F","#55C6C9","#3B5FE0","#A47CF0","#DE4CA6","#FFFFFF"]},"legend":null}}},
{"data":{"values":[{}]},"mark":{"type":"rule","color":"#222222","strokeWidth":2,"strokeDash":[8,6]},"encoding":{"y":{"datum":0,"type":"quantitative","scale":{"domain":[-4.466,8.107],"nice":false,"zero":false}}}},
{"data":{"values":[{}]},"mark":{"type":"rule","color":"#222222","strokeWidth":2,"strokeDash":[8,6]},"encoding":{"x":{"datum":0,"type":"quantitative","scale":{"domain":[-9.316,11.5],"nice":false,"zero":false}}}},
{"data":{"name":"ptsD"},"mark":{"type":"circle","size":115,"opacity":1},
 "encoding":{"x":{"field":"PC1","type":"quantitative","scale":{"domain":[-9.316,11.5],"nice":false,"zero":false}},
 "y":{"field":"PC2","type":"quantitative","scale":{"domain":[-4.466,8.107],"nice":false,"zero":false}},
 "color":{"field":"location","type":"nominal","scale":{"domain":["CD","CM","CRBA","HP&DM","JPC","MPR&PB","SR","x"],"range":["#E5554D","#E3B626","#368A2F","#55C6C9","#3B5FE0","#A47CF0","#DE4CA6","#FFFFFF"]},"legend":null}}},
{"data":{"values":[{"t":"D","x":-10.694,"y":7.424}]},"mark":{"type":"text","font":"Open Sans","fontSize":48,"align":"center","baseline":"alphabetic","color":"#000000"},
 "encoding":{"x":{"field":"x","type":"quantitative","scale":{"domain":[-9.316,11.5],"nice":false,"zero":false}},"y":{"field":"y","type":"quantitative","scale":{"domain":[-4.466,8.107],"nice":false,"zero":false}},"text":{"field":"t"}}}
]
}
],
"config": {
"view": {"stroke": null},
"font": "Liberation Sans",
"axis": {"grid": false, "domainColor": "#000000", "domainWidth": 1.6, "tickColor": "#000000", "tickWidth": 1.4, "tickSize": 7, "labelColor": "#4D4D4D", "labelFontSize": 22, "labelFont": "Liberation Sans", "titleFont": "Liberation Sans", "titleFontSize": 24, "titleFontWeight": "normal", "titleColor": "#000000", "labelPadding": 4},
"axisX": {"titlePadding": 5.5},
"axisY": {"titlePadding": 9},
"legend": {"labelFont": "Liberation Sans", "titleFont": "Liberation Sans", "titleFontWeight": "normal", "labelColor": "#000000", "titleColor": "#000000", "padding": 0},
"text": {"font": "Liberation Sans"}
}
}
